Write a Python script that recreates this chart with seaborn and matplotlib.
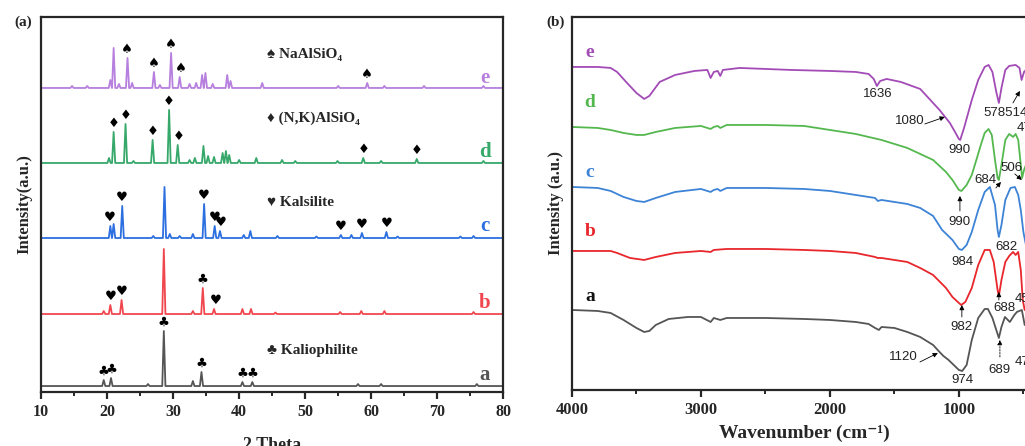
import numpy as np
import pandas as pd
import matplotlib
matplotlib.use("Agg")
import matplotlib.pyplot as plt
from matplotlib.ticker import MultipleLocator
import seaborn as sns

# ---------------- XRD data (panel a) ----------------
# peak positions (2 theta) and heights (a.u.), one list pair per sample
xrd_names = ["a", "b", "c", "d", "e"]
xrd_colors = ["#555555", "#f0474e", "#2b6fe0", "#36a86a", "#b77fde"]
xrd_offsets = [6, 78, 154, 229, 304]

a_pos = [19.5, 20.6, 26.2, 28.6, 33.0, 34.3, 40.5, 42.0, 58.0, 61.5, 76.0]
a_h = [6, 8, 2, 55, 5, 14, 4, 4, 2, 2, 2]
b_pos = [19.5, 20.5, 22.2, 28.6, 33.0, 34.5, 36.2, 40.5, 41.8, 45.5, 55.3, 58.5, 62.0, 75.5]
b_h = [3, 9, 14, 65, 3, 26, 5, 5, 5, 1.5, 2, 3, 3, 2]
c_pos = [20.5, 21.0, 22.3, 27.0, 28.7, 29.5, 31.0, 33.0, 34.7, 36.3, 37.1, 40.7, 41.7,
         45.8, 51.7, 55.4, 57.0, 58.6, 62.3, 64.0, 73.5, 75.5]
c_h = [12, 14, 32, 2, 51, 4, 2, 4, 34, 12, 7, 3, 7, 2, 1.5, 3, 3, 5, 6, 1.5, 1.5, 2]
d_pos = [20.3, 21.0, 22.8, 24.0, 26.9, 29.4, 30.7, 32.5, 33.3, 34.6, 35.3, 36.2, 37.5,
         38.0, 38.5, 40.0, 42.6, 46.5, 48.5, 54.9, 58.8, 61.5, 66.9, 77.0]
d_h = [5, 31, 39, 2, 23, 53, 18, 3, 5, 17, 7, 6, 10, 12, 8, 3, 5, 3, 2, 2, 5, 2, 4, 2]
e_pos = [14.7, 17.0, 20.5, 21.0, 21.8, 23.1, 23.8, 27.1, 28.0, 29.7, 31.0, 32.5, 33.5,
         34.4, 34.9, 36.0, 38.2, 38.7, 43.5, 55.0, 59.4, 62.0, 68.0, 77.0]
e_h = [2, 2, 8, 40, 4, 30, 5, 16, 3, 35, 11, 4, 5, 13, 15, 4, 13, 7, 5, 2, 5, 2, 2, 2]

xrd_peaks = {"a": (a_pos, a_h), "b": (b_pos, b_h), "c": (c_pos, c_h),
             "d": (d_pos, d_h), "e": (e_pos, e_h)}

# phase markers: (sample, symbol, 2theta list)
phase_marks = [
    ("e", "\u2660", [23.0, 27.1, 29.7, 31.1, 59.4]),
    ("d", "\u2666", [21.0, 22.8, 26.9, 29.4, 30.8, 58.8, 66.9]),
    ("c", "\u2665", [20.4, 22.3, 34.7, 36.3, 37.2, 55.4, 58.6, 62.3]),
    ("b", "\u2665", [20.5, 22.2, 36.4]),
    ("b", "\u2663", [34.5]),
    ("a", "\u2663", [19.5, 20.6, 28.6, 34.3, 40.5, 42.0]),
]
phase_legend = ["\u2660 NaAlSiO\u2084", "\u2666 (N,K)AlSiO\u2084", "\u2665 Kalsilite", "\u2663 Kaliophilite"]

# ---------------- FTIR data (panel b) ----------------
e_wn = [4000, 3800, 3700, 3650, 3580, 3500, 3440, 3400, 3320, 3200, 3050, 2950, 2925, 2900, 2870,
        2850, 2830, 2700, 2500, 2300, 2000, 1800, 1700, 1660, 1636, 1610, 1560, 1450, 1300, 1150,
        1070, 1030, 1000, 990, 960, 900, 850, 800, 770, 740, 710, 690, 670, 640, 610, 560, 530,
        514, 495, 480]
e_ir = [323, 323, 322, 318, 308, 297, 291, 294, 308, 315, 319, 320, 312, 318, 319, 314, 320, 322,
        321, 320, 319, 318, 316, 311, 304, 309, 311, 308, 301, 280, 267, 258, 251, 250, 262, 290,
        310, 323, 325, 318, 298, 287, 302, 320, 324, 325, 322, 310, 318, 320]
d_wn = [4000, 3800, 3700, 3600, 3500, 3440, 3350, 3200, 3000, 2925, 2900, 2870, 2850, 2800, 2500,
        2200, 2000, 1800, 1600, 1400, 1300, 1200, 1100, 1050, 1000, 980, 940, 900, 860, 830, 800,
        770, 745, 720, 700, 690, 670, 640, 610, 580, 560, 540, 520, 510, 495, 480]
d_ir = [263, 262, 260, 257, 255, 255, 258, 262, 264, 261, 263, 264, 262, 265, 265, 264, 260, 256,
        250, 242, 236, 230, 218, 210, 200, 199, 205, 215, 232, 245, 257, 261, 255, 230, 212, 210,
        225, 250, 256, 253, 256, 250, 225, 212, 220, 225]
c_wn = [4000, 3800, 3700, 3600, 3500, 3440, 3350, 3200, 3000, 2925, 2900, 2870, 2850, 2800, 2500,
        2200, 2000, 1800, 1650, 1628, 1600, 1400, 1300, 1200, 1130, 1050, 1000, 977, 940, 900, 850,
        800, 760, 720, 700, 690, 670, 640, 600, 566, 540, 520, 500, 480]
c_ir = [203, 202, 199, 193, 189, 188, 192, 198, 201, 198, 200, 201, 199, 202, 202, 201, 199, 195,
        192, 189, 190, 186, 182, 174, 160, 150, 141, 140, 145, 158, 180, 198, 203, 185, 160, 153,
        165, 190, 202, 203, 195, 180, 158, 145]
b_wn = [4000, 3700, 3650, 3550, 3440, 3350, 3200, 3000, 2925, 2900, 2800, 2500, 2200, 2000, 1800,
        1650, 1630, 1600, 1400, 1300, 1200, 1100, 1050, 1000, 982, 950, 900, 850, 800, 760, 730,
        700, 690, 670, 640, 610, 580, 560, 540, 520, 505, 490]
b_ir = [139, 139, 137, 132, 130, 133, 137, 139, 138, 140, 141, 141, 140, 139, 137, 133, 132, 132,
        128, 122, 115, 102, 93, 87, 85, 88, 102, 125, 140, 140, 128, 100, 94, 110, 128, 134, 138,
        135, 138, 120, 90, 80]
a_wn = [4000, 3800, 3700, 3600, 3500, 3440, 3400, 3350, 3250, 3100, 3000, 2925, 2900, 2850, 2800,
        2500, 2200, 2000, 1800, 1700, 1650, 1620, 1600, 1500, 1400, 1300, 1200, 1150, 1120, 1080,
        1040, 1000, 974, 940, 900, 850, 800, 775, 740, 710, 690, 670, 643, 605, 570, 550, 512,
        500, 490]
a_ir = [80, 79, 77, 70, 62, 58, 59, 65, 71, 73, 73, 68, 72, 70, 72, 72, 71, 70, 68, 66, 62, 60,
        63, 62, 58, 53, 45, 38, 34, 30, 25, 20, 19, 25, 50, 72, 81, 81, 72, 60, 52, 63, 73, 68,
        75, 78, 80, 72, 65]

ir_names = ["a", "b", "c", "d", "e"]
ir_colors = ["#555555", "#e8262b", "#3d83d6", "#55b84f", "#a24bb6"]
ir_data = {"a": (a_wn, a_ir), "b": (b_wn, b_ir), "c": (c_wn, c_ir),
           "d": (d_wn, d_ir), "e": (e_wn, e_ir)}


def xrd_trace(pos, h, offset, half=0.24):
    pos = np.array(pos, dtype=float)
    grid = np.unique(np.concatenate([[10, 80], pos - half, pos, pos + half]))
    y = np.full_like(grid, float(offset))
    for p, hh in zip(pos, h):
        y += np.interp(grid, [p - half, p, p + half], [0, hh, 0], left=0, right=0)
    return grid, y


sns.set_style("ticks")
plt.rcParams["font.family"] = ["Liberation Serif", "DejaVu Sans"]
plt.rcParams["font.weight"] = "bold"
plt.rcParams["axes.linewidth"] = 1.6

fig = plt.figure(figsize=(10.25, 4.46), dpi=100)
ax1 = fig.add_axes([0.040, 0.121, 0.451, 0.841])
ax2 = fig.add_axes([0.558, 0.1256, 0.453, 0.8364])

# ---- panel (a) ----
traces = {}
for name, col, off in zip(xrd_names, xrd_colors, xrd_offsets):
    gx, gy = xrd_trace(*xrd_peaks[name], off)
    traces[name] = (gx, gy)
    df = pd.DataFrame({"two_theta": gx, "intensity": gy})
    sns.lineplot(data=df, x="two_theta", y="intensity", ax=ax1, color=col, lw=1.3,
                 estimator=None)

for name, sym, xs in phase_marks:
    gx, gy = traces[name]
    for x in xs:
        sel = (gx >= x - 0.35) & (gx <= x + 0.35)
        top = gy[sel].max()
        ax1.text(x, top + 2, sym, ha="center", va="bottom", fontsize=9.5,
                 family="DejaVu Sans", color="black")

leg_y = [337, 274, 190, 42]
for txt, ly in zip(phase_legend, leg_y):
    ax1.text(44.2, ly, txt, ha="left", va="center", fontsize=11, fontweight="bold",
             family=["Liberation Serif", "DejaVu Sans"])

let_y = [17, 89, 166, 240, 314]
for name, col, ly in zip(xrd_names, xrd_colors, let_y):
    ax1.text(77.2, ly, name, ha="center", va="center", fontsize=15, fontweight="bold", color=col)

ax1.set_xlim(10, 80)
ax1.set_ylim(0, 375)
ax1.set_yticks([])
ax1.xaxis.set_major_locator(MultipleLocator(10))
ax1.xaxis.set_minor_locator(MultipleLocator(5))
ax1.tick_params(axis="x", which="major", direction="out", length=5, width=1.6, labelsize=11.5)
ax1.tick_params(axis="x", which="minor", direction="out", length=3, width=1.4)
ax1.set_xlabel("2 Theta", fontsize=13, fontweight="bold", labelpad=12)
ax1.set_ylabel("Intensity(a.u.)", fontsize=12, fontweight="bold", labelpad=6)
for lab in ax1.get_xticklabels():
    lab.set_fontweight("bold")

# ---- panel (b) ----
for name, col in zip(ir_names, ir_colors):
    wn, val = ir_data[name]
    df = pd.DataFrame({"wavenumber": wn, "signal": val})
    sns.lineplot(data=df, x="wavenumber", y="signal", ax=ax2, color=col, lw=1.3,
                 estimator=None)

arrow_kw = dict(arrowstyle="-|>", lw=0.6, color="black", mutation_scale=7, shrinkA=0, shrinkB=0)
num_kw = dict(fontsize=9.5, family="Liberation Sans", fontweight="normal", color="#222222",
              ha="center", va="center")
# (label, text position, arrow tail, arrow head)
ir_notes = [
    ("1636", (1628, 296), None, None),
    ("1080", (1380, 269), (1264, 266), (1109, 273)),
    ("990", (992, 240), None, None),
    ("578514", (636, 277), (581, 287), (527, 299)),
    ("990", (992, 168), (992, 179), (992, 194)),
    ("684", (798, 210), (713, 202), (674, 208)),
    ("506", (589, 222), (566, 216), (512, 210)),
    ("682", (628, 143), None, None),
    ("984", (969, 128), None, None),
    ("982", (977, 63), (977, 73), (977, 85)),
    ("688", (643, 82), (690, 90), (690, 98)),
    ("1120", (1434, 33), (1302, 28), (1163, 37)),
    ("974", (969, 10), None, None),
    ("689", (682, 20), (682, 33), (682, 50)),
]
for txt, tpos, tail, head in ir_notes:
    ax2.text(tpos[0], tpos[1], txt, **num_kw)
    if tail is not None:
        kw = dict(arrow_kw)
        if txt == "689":
            kw["linestyle"] = (0, (2, 1.5))
        ax2.annotate("", xy=head, xytext=tail, arrowprops=kw)
for txt, tpos in [("47", (552, 262)), ("45", (566, 91)), ("47", (566, 28))]:
    ax2.text(tpos[0], tpos[1], txt, fontsize=9.5, family="Liberation Sans", fontweight="normal",
             color="#222222", ha="left", va="center")

ir_let_y = [93, 158, 217, 287, 337]
for name, col, ly in zip(ir_names, ir_colors, ir_let_y):
    c = "#111111" if name == "a" else col
    ax2.text(3860, ly, name, ha="center", va="center", fontsize=14, fontweight="bold", color=c)

ax2.set_xlim(4000, 400)
ax2.set_ylim(0, 373)
ax2.set_yticks([])
ax2.xaxis.set_major_locator(MultipleLocator(1000))
ax2.xaxis.set_minor_locator(MultipleLocator(500))
ax2.tick_params(axis="x", which="major", direction="out", length=5, width=1.6, labelsize=12)
ax2.tick_params(axis="x", which="minor", direction="out", length=3, width=1.4)
ax2.set_xlabel("Wavenumber (cm\u207b\u00b9)", fontsize=14, fontweight="bold", labelpad=5)
ax2.set_ylabel("Intensity (a.u.)", fontsize=12, fontweight="bold", labelpad=6)
for lab in ax2.get_xticklabels():
    lab.set_fontweight("bold")

fig.text(23 / 1025, 1 - 22 / 446, "(a)", ha="center", va="center", fontsize=11, fontweight="bold")
fig.text(556 / 1025, 1 - 22 / 446, "(b)", ha="center", va="center", fontsize=11, fontweight="bold")

fig.savefig("out.png", dpi=100)
